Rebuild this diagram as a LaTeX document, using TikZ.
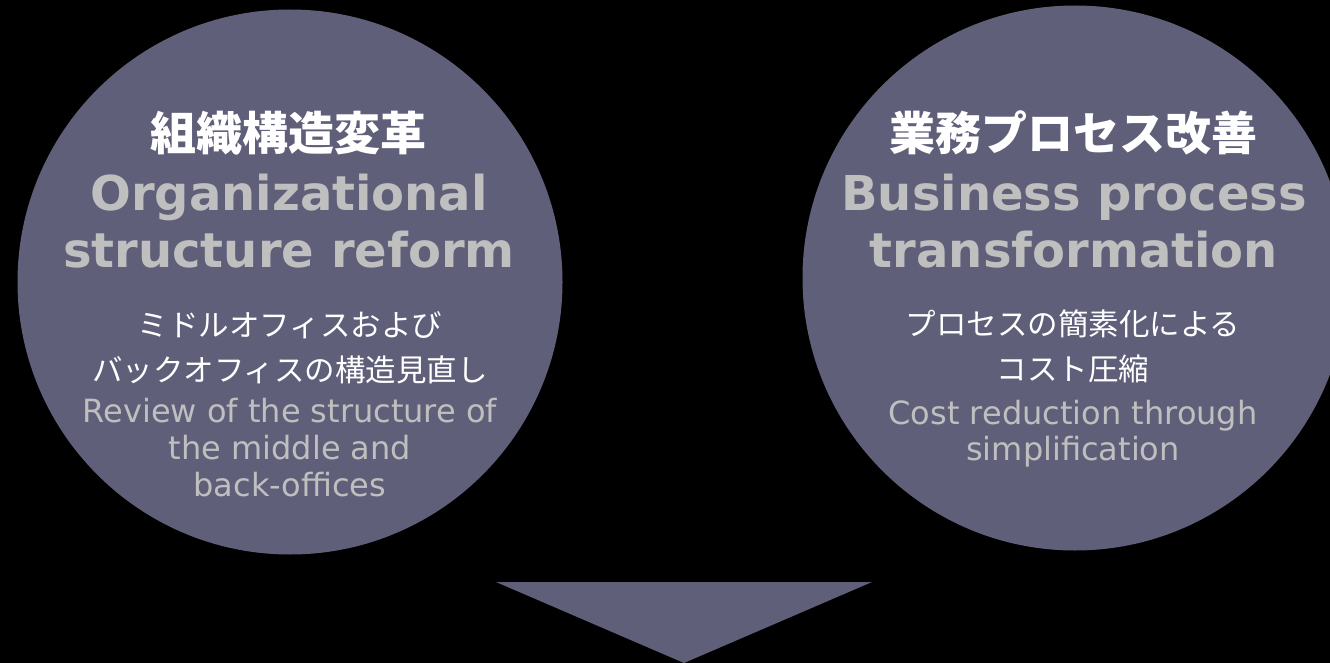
\documentclass[tikz,border=0pt]{standalone}
\usepackage{fontspec}
\setmainfont{DejaVu Sans}
\newfontfamily\jpfont{Noto Sans CJK JP}
\definecolor{circ}{RGB}{95,95,122}
\definecolor{ltgray}{RGB}{191,191,191}
\begin{document}
\begin{tikzpicture}[x=1pt,y=-1pt,
  bubble/.style={circle, fill=circ, minimum size=545pt, inner sep=0pt},
  jptitle/.style={anchor=base, text=white, font=\jpfont\bfseries\fontsize{46}{50}\selectfont, inner sep=0pt},
  entitle/.style={anchor=base, text=ltgray, font=\bfseries\fontsize{48}{54}\selectfont, inner sep=0pt},
  jpbody/.style={anchor=base, text=white, font=\jpfont\fontsize{30.5}{34}\selectfont, inner sep=0pt},
  enbody/.style={anchor=base, text=ltgray, font=\fontsize{32}{36}\selectfont, inner sep=0pt}]
\useasboundingbox[fill=black] (0,0) rectangle (1330,663);
\clip (0,0) rectangle (1330,663);
\node[bubble] (lc) at (290,282) {};
\node[bubble] (rc) at (1075,278) {};
\fill[circ] (496,582) -- (872,582) -- (684,663) -- cycle;
% left texts
\node[jptitle] (l1) at (288,151) {組織構造変革};
\node[entitle] (l2) at (289,211) {Organizational};
\node[entitle] (l3) at (289,267) {structure reform};
\node[jpbody] (l4) at (290,336) {ミドルオフィスおよび};
\node[jpbody] (l5) at (290,381) {バックオフィスの構造見直し};
\node[enbody] (l6) at (290,422) {Review of the structure of};
\node[enbody] (l7) at (290,459) {the middle and};
\node[enbody] (l8) at (290,496) {back-offices};
% right texts
\node[jptitle] (r1) at (1073,151) {業務プロセス改善};
\node[entitle] (r2) at (1074,211) {Business process};
\node[entitle] (r3) at (1074,267) {transformation};
\node[jpbody] (r4) at (1073,335) {プロセスの簡素化による};
\node[jpbody] (r5) at (1073,380) {コスト圧縮};
\node[enbody] (r6) at (1073,424) {Cost reduction through};
\node[enbody] (r7) at (1073,460) {simplification};
\end{tikzpicture}
\end{document}
